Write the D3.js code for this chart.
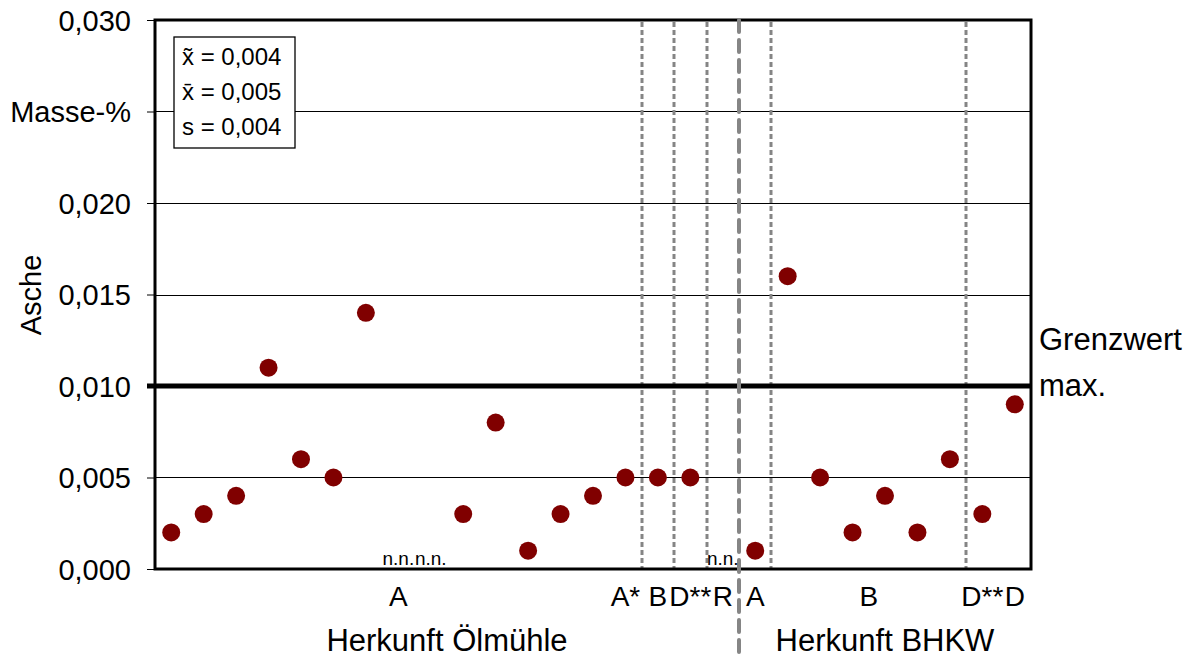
<!DOCTYPE html>
<html>
<head>
<meta charset="utf-8">
<script src="https://cdn.jsdelivr.net/npm/d3@7"></script>
<style>
  body { margin: 0; background: #fff; }
  svg { display: block; font-family: "Liberation Sans", Arial, sans-serif; }
</style>
</head>
<body>
<div id="chart"></div>
<script>
// Asche content per sample (Masse-%), null = n.n. (nicht nachweisbar)
const samples = ["1","2","3","4","5","6","7","8","9","10","11","12","13","14","15",
                 "16","17","18","19","20","21","22","23","24","25","26","27"];
const asche = [0.002, 0.003, 0.004, 0.011, 0.006, 0.005, 0.014, null, null, 0.003,
               0.008, 0.001, 0.003, 0.004, 0.005, 0.005, 0.005, null, 0.001, 0.016,
               0.005, 0.002, 0.004, 0.002, 0.006, 0.003, 0.009];

// y axis ticks
const yTicks = [0, 0.005, 0.010, 0.015, 0.020, 0.025, 0.030];
const yTickLabels = ["0,000", "0,005", "0,010", "0,015", "0,020", "Masse-%", "0,030"];

// group labels below the axis: text, first sample, last sample
const groupLabels = [
    ["A", "1", "15"], ["A*", "15", "15"], ["B", "16", "16"], ["D**", "17", "17"],
    ["R", "18", "18"], ["A", "19", "19"], ["B", "20", "25"], ["D**", "26", "26"],
    ["D", "27", "27"]
];
// dashed dividers after these samples
const dividers = ["15", "16", "17", "19", "25"];
const mainDivider = "18";
const origins = [["Herkunft Ölmühle", "1", "18"], ["Herkunft BHKW", "19", "27"]];

const grenzwert = 0.010;
const stats = ["x\u0303 = 0,004", "x\u0304 = 0,005", "s = 0,004"];

const width = 1193, height = 657;
const margin = { top: 20, right: 162, bottom: 88, left: 155 };
const innerW = width - margin.left - margin.right;
const innerH = height - margin.top - margin.bottom;

const svg = d3.select("#chart").append("svg")
    .attr("width", width)
    .attr("height", height);

const g = svg.append("g").attr("transform", `translate(${margin.left},${margin.top})`);

const x = d3.scaleBand().domain(samples).range([0, innerW]);
const y = d3.scaleLinear().domain([0, 0.030]).range([innerH, 0]);
const cx = s => x(s) + x.bandwidth() / 2;
const edge = s => Math.round(x(s) + x.bandwidth());

// gridlines
g.selectAll(".grid")
    .data(yTicks.filter(t => t > 0 && t < 0.030 && t !== grenzwert))
    .join("line")
    .attr("x1", 0).attr("x2", innerW)
    .attr("y1", d => Math.round(y(d)) + 0.5).attr("y2", d => Math.round(y(d)) + 0.5)
    .attr("stroke", "#000").attr("stroke-width", 1);

// dashed dividers
g.selectAll(".div")
    .data(dividers)
    .join("line")
    .attr("x1", d => edge(d)).attr("x2", d => edge(d))
    .attr("y1", 2).attr("y2", innerH)
    .attr("stroke", "#858585").attr("stroke-width", 3)
    .attr("stroke-dasharray", "5,3");

// stats box
const box = g.append("g").attr("transform", "translate(19,17)");
box.append("rect")
    .attr("width", 121).attr("height", 111)
    .attr("fill", "#fff").attr("stroke", "#000").attr("stroke-width", 1.3);
box.selectAll("text")
    .data(stats)
    .join("text")
    .attr("x", 8)
    .attr("y", (d, i) => 28 + i * 35)
    .attr("font-size", 24)
    .text(d => d);

// Grenzwert line
g.append("line")
    .attr("x1", -8).attr("x2", innerW)
    .attr("y1", y(grenzwert)).attr("y2", y(grenzwert))
    .attr("stroke", "#000").attr("stroke-width", 5);

// axes
const yAxis = d3.axisLeft(y)
    .tickValues(yTicks)
    .tickFormat((d, i) => yTickLabels[i])
    .tickSize(8)
    .tickPadding(16);
const ya = g.append("g").call(yAxis);
ya.select(".domain").remove();
ya.selectAll("line").attr("stroke", "#000").attr("stroke-width", 1);
ya.selectAll("text")
    .attr("font-size", 29)
    .attr("font-family", "Liberation Sans, Arial, sans-serif")
    .attr("fill", "#000")
    .attr("dy", "0.36em");

// frame
g.append("rect")
    .attr("width", innerW).attr("height", innerH)
    .attr("fill", "none").attr("stroke", "#000").attr("stroke-width", 3);

// main divider
g.append("line")
    .attr("x1", edge(mainDivider)).attr("x2", edge(mainDivider))
    .attr("y1", 0).attr("y2", height - margin.top)
    .attr("stroke", "#858585").attr("stroke-width", 4)
    .attr("stroke-dasharray", "12,8")
    .attr("stroke-linecap", "round");

// points
g.selectAll(".pt")
    .data(samples.map((s, i) => ({ s, v: asche[i] })).filter(d => d.v !== null))
    .join("circle")
    .attr("cx", d => cx(d.s))
    .attr("cy", d => y(d.v))
    .attr("r", 9)
    .attr("fill", "#800000");

// n.n. labels
g.selectAll(".nn")
    .data(samples.filter((s, i) => asche[i] === null))
    .join("text")
    .attr("x", d => cx(d))
    .attr("y", innerH - 4)
    .attr("text-anchor", "middle")
    .attr("font-size", 19)
    .text("n.n.");

// group labels
g.selectAll(".grp")
    .data(groupLabels)
    .join("text")
    .attr("x", d => (x(d[1]) + x(d[2]) + x.bandwidth()) / 2)
    .attr("y", innerH + 37)
    .attr("text-anchor", "middle")
    .attr("font-size", 28)
    .text(d => d[0]);

g.selectAll(".orig")
    .data(origins)
    .join("text")
    .attr("x", d => (x(d[1]) + x(d[2]) + x.bandwidth()) / 2)
    .attr("y", innerH + 82)
    .attr("text-anchor", "middle")
    .attr("font-size", 31)
    .text(d => d[0]);

// y axis title
svg.append("text")
    .attr("transform", "translate(41,295) rotate(-90)")
    .attr("text-anchor", "middle")
    .attr("font-size", 29)
    .text("Asche");

// Grenzwert label
svg.append("text").attr("x", 1039).attr("y", 350).attr("font-size", 31).text("Grenzwert");
svg.append("text").attr("x", 1039).attr("y", 396).attr("font-size", 31).text("max.");
</script>
</body>
</html>
